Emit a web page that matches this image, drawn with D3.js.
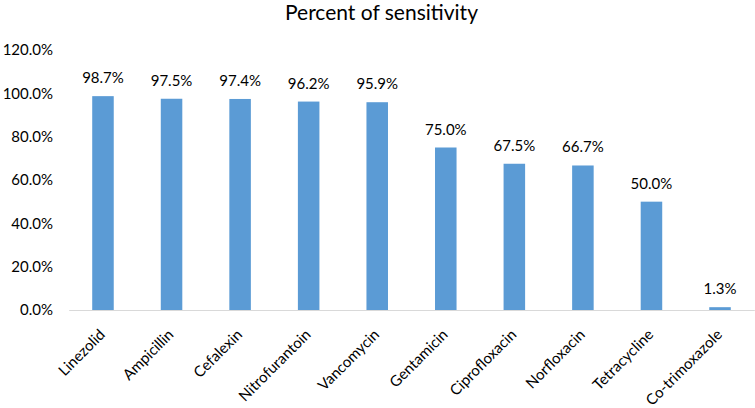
<!DOCTYPE html>
<html><head><meta charset="utf-8">
<script src="https://cdn.jsdelivr.net/npm/d3@7"></script>
<style>body{margin:0;background:#fff}svg{display:block}text{font-family:Lato,"Open Sans",sans-serif;fill:#000}</style>
</head><body>
<script>
const categories = ["Linezolid","Ampicillin","Cefalexin","Nitrofurantoin","Vancomycin","Gentamicin","Ciprofloxacin","Norfloxacin","Tetracycline","Co-trimoxazole"];
const values = [98.7,97.5,97.4,96.2,95.9,75.0,67.5,66.7,50.0,1.3];
const yTicks = [0,20,40,60,80,100,120];
const title = "Percent of sensitivity";

const W=755,H=408;
const svg=d3.select("body").append("svg").attr("width",W).attr("height",H);
const x=d3.scaleBand().domain(categories).range([68.7,754.3]).paddingInner(0.686).paddingOuter(0.343);
const y=d3.scaleLinear().domain([0,120]).range([310,50]);

svg.append("text").attr("x",381.5).attr("y",20).attr("text-anchor","middle").style("font-size","21px").text(title);

const ya=svg.append("g").attr("transform","translate(53,0)").call(d3.axisLeft(y).tickValues(yTicks).tickSize(0).tickPadding(0).tickFormat(d=>d.toFixed(1)+"%"));
ya.select(".domain").remove();
ya.selectAll("text").style("font-size","15px").attr("fill","#000");

svg.append("g").selectAll("rect").data(values).join("rect")
  .attr("x",(d,i)=>x(categories[i])).attr("width",x.bandwidth())
  .attr("y",d=>y(d)).attr("height",d=>y(0)-y(d)).attr("fill","#5B9BD5");

svg.append("g").selectAll("text").data(values).join("text")
  .attr("x",(d,i)=>x(categories[i])+x.bandwidth()/2).attr("y",d=>y(d)-13)
  .attr("text-anchor","middle").style("font-size","15px").text(d=>d.toFixed(1)+"%");

const xa=svg.append("g").attr("transform","translate(0,310)").call(d3.axisBottom(x).tickSize(0).tickPadding(0));
xa.select(".domain").attr("stroke","#d9d9d9").attr("stroke-width",1);
xa.selectAll("text").style("font-size","15px").attr("fill","#000")
  .attr("text-anchor","end").attr("dy",null)
  .attr("transform","translate(3,25.5) rotate(-45)");
</script>
</body></html>
